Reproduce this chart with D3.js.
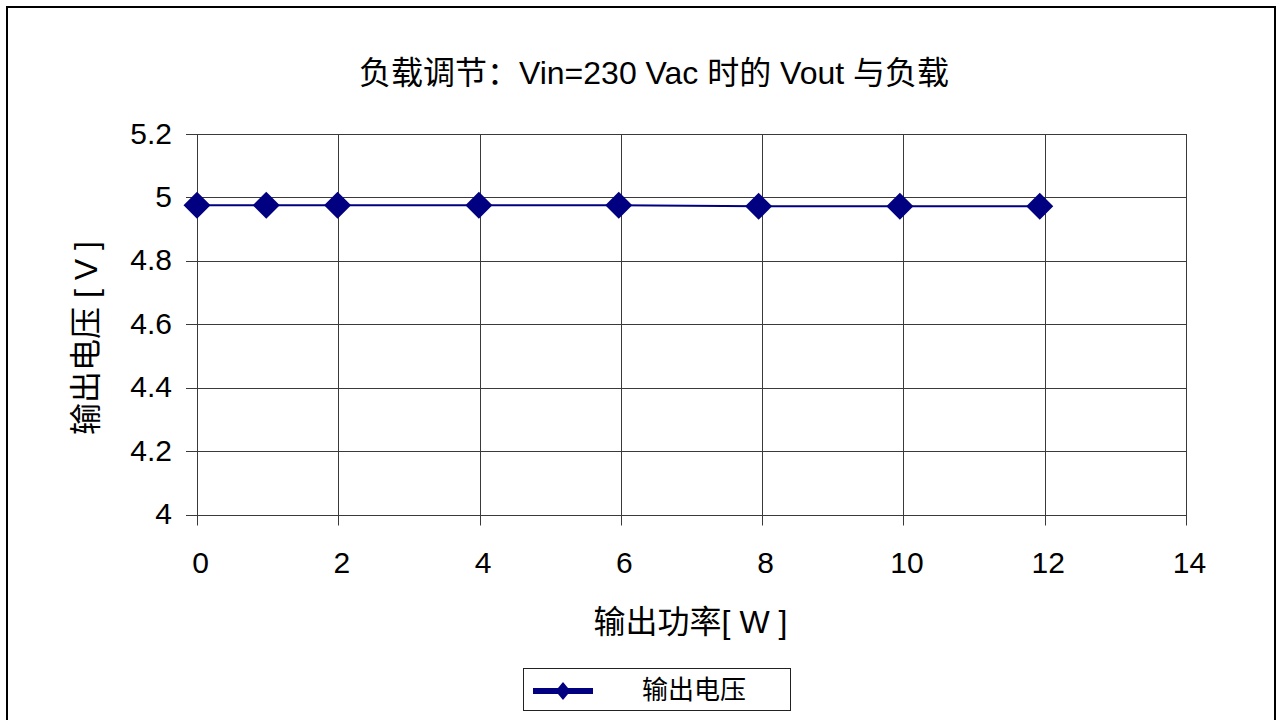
<!DOCTYPE html>
<html>
<head>
<meta charset="utf-8">
<script src="https://cdn.jsdelivr.net/npm/d3@7"></script>
<style>
  html, body { margin: 0; padding: 0; background: #fff; }
  svg { display: block; }
  text { font-family: "Liberation Sans", Arial, "Noto Sans CJK SC", sans-serif; fill: #000; }
</style>
</head>
<body>
<svg id="chart" width="1282" height="720"></svg>
<script>
// Output power [W] and measured output voltage [V]
const powerW   = [0, 0.98, 1.99, 3.99, 5.97, 7.95, 9.95, 11.93];
const voltageV = [4.975, 4.975, 4.975, 4.975, 4.975, 4.972, 4.972, 4.972];
const xTicks = [0, 2, 4, 6, 8, 10, 12, 14];
const yTicks = [4, 4.2, 4.4, 4.6, 4.8, 5, 5.2];
const titleText = "负载调节：Vin=230 Vac 时的 Vout 与负载";
const xTitle = "输出功率[ W ]";
const yTitle = "输出电压 [ V ]";
const seriesName = "输出电压";

const svg = d3.select("#chart");
const navy = "#000080";
const gridColor = "#3a3a3a";

const plot = { left: 197, right: 1186, top: 134, bottom: 514.5 };
const x = d3.scaleLinear().domain([0, 14]).range([plot.left, plot.right]);
const y = d3.scaleLinear().domain([4, 5.2]).range([plot.bottom, plot.top]);

// outer chart frame
svg.append("rect")
  .attr("x", 7).attr("y", 7).attr("width", 1268).attr("height", 740)
  .attr("fill", "none").attr("stroke", "#000").attr("stroke-width", 2);

// title
svg.append("text")
  .attr("x", 654).attr("y", 84)
  .attr("text-anchor", "middle")
  .style("font-size", "32px")
  .text(titleText);

// gridlines
svg.append("g").selectAll("line").data(yTicks).join("line")
  .attr("x1", plot.left - 11).attr("x2", plot.right)
  .attr("y1", d => Math.round(y(d)) + 0.5).attr("y2", d => Math.round(y(d)) + 0.5)
  .attr("stroke", gridColor).attr("stroke-width", 1);
svg.append("g").selectAll("line").data(xTicks).join("line")
  .attr("y1", plot.top).attr("y2", plot.bottom + 11)
  .attr("x1", d => Math.round(x(d)) + 0.5).attr("x2", d => Math.round(x(d)) + 0.5)
  .attr("stroke", gridColor).attr("stroke-width", 1);

// axes labels via d3 axes (lines hidden, gridlines above carry the ticks)
const yAxis = d3.axisLeft(y).tickValues(yTicks).tickSize(0).tickPadding(0)
  .tickFormat(d3.format("~g"));
const gy = svg.append("g").attr("transform", `translate(${plot.left - 25},0)`).call(yAxis);
gy.select(".domain").remove();
gy.selectAll("text").style("font-size", "30px").style("font-family", "Liberation Sans, Arial, sans-serif")
  .attr("dy", "0.3em").attr("fill", "#000");

const xAxis = d3.axisBottom(x).tickValues(xTicks).tickSize(0).tickPadding(0)
  .tickFormat(d3.format("d"));
const gx = svg.append("g").attr("transform", `translate(3,${plot.bottom})`).call(xAxis);
gx.select(".domain").remove();
gx.selectAll("text").style("font-size", "30px").style("font-family", "Liberation Sans, Arial, sans-serif")
  .attr("dy", 0).attr("y", 58).attr("fill", "#000");

// axis titles
svg.append("text")
  .attr("x", (plot.left + plot.right) / 2 - 1).attr("y", 633)
  .attr("text-anchor", "middle")
  .style("font-size", "32px")
  .text(xTitle);
svg.append("text")
  .attr("transform", `translate(97,${338}) rotate(-90)`)
  .attr("text-anchor", "middle")
  .style("font-size", "32px")
  .text(yTitle);

// data line
const pts = powerW.map((p, i) => [p, voltageV[i]]);
svg.append("path")
  .datum(pts)
  .attr("fill", "none").attr("stroke", navy).attr("stroke-width", 2)
  .attr("d", d3.line().x(d => x(d[0])).y(d => y(d[1])));

// diamond markers
const diamond = (w, h) => `M0,${-h / 2}L${w / 2},0L0,${h / 2}L${-w / 2},0Z`;
svg.append("g").selectAll("path").data(pts).join("path")
  .attr("transform", d => `translate(${x(d[0])},${y(d[1])})`)
  .attr("d", diamond(27, 27))
  .attr("fill", navy);

// legend
const lg = svg.append("g");
lg.append("rect")
  .attr("x", 523.5).attr("y", 668.5).attr("width", 267).attr("height", 42)
  .attr("fill", "#fff").attr("stroke", "#222").attr("stroke-width", 1);
lg.append("line")
  .attr("x1", 533).attr("x2", 593).attr("y1", 691).attr("y2", 691)
  .attr("stroke", navy).attr("stroke-width", 6);
lg.append("path")
  .attr("transform", "translate(563,691)")
  .attr("d", diamond(15, 18))
  .attr("fill", navy);
lg.append("text")
  .attr("x", 642).attr("y", 699)
  .style("font-size", "26px")
  .text(seriesName);
</script>
</body>
</html>
